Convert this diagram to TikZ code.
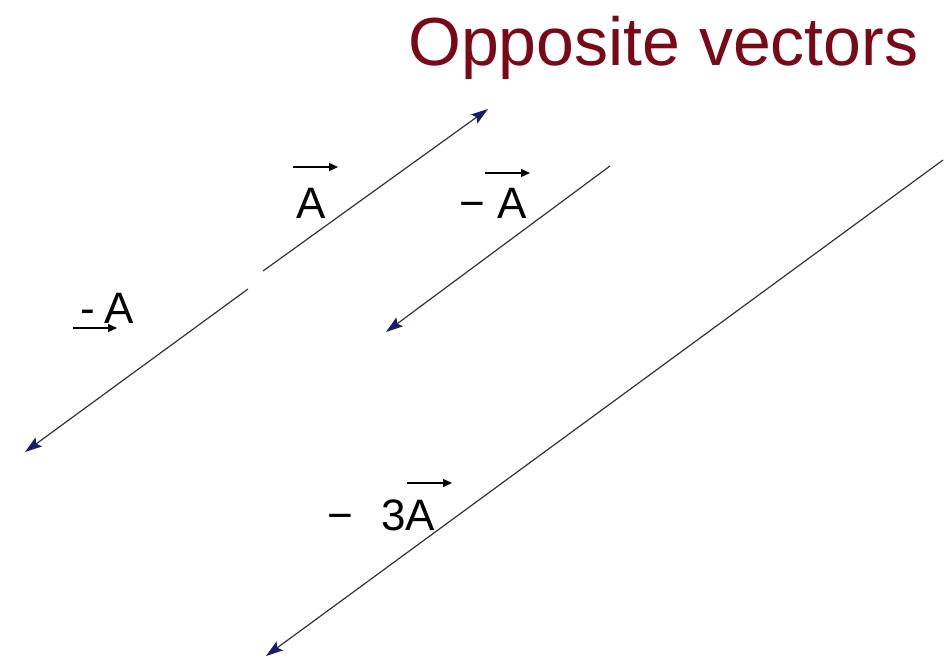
\documentclass[tikz,border=0pt]{standalone}
\usepackage{fontspec}
\setmainfont{Liberation Sans}
\usetikzlibrary{arrows.meta}
\definecolor{titlered}{RGB}{122,8,22}
\definecolor{tipblue}{RGB}{28,26,110}

\begin{document}
\begin{tikzpicture}[x=1pt, y=-1pt, every node/.style={inner sep=0pt, anchor=base west, font=\fontsize{44}{44}\selectfont}, vec/.style={draw=black!80, line width=1.2pt, -{Stealth[length=17pt, width=11pt, inset=3pt, color=tipblue]}}, bar/.style={line width=1.4pt, -{Triangle[length=9pt, width=8pt]}}]
\useasboundingbox (0,0) rectangle (946,659);
\node[font=\fontsize{68}{68}\selectfont, text=titlered] (title) at (408,65) {Opposite vectors};
% the vectors
\coordinate (a0) at (263,271);
\coordinate (a1) at (488,109);
\coordinate (b0) at (248,289);
\coordinate (b1) at (25,452);
\coordinate (c0) at (610,166);
\coordinate (c1) at (386,332);
\coordinate (d0) at (943,160);
\coordinate (d1) at (266,656);
\draw[vec] (a0) -- (a1);
\draw[vec] (b0) -- (b1);
\draw[vec] (c0) -- (c1);
\draw[vec] (d0) -- (d1);
% labels
\node (la) at (296,218) {A};
\node (lb) at (80,323) {-\hspace{10pt}A};
\node (lc) at (459.5,218) {− A};
\node (ld) at (327.5,530) {−\hspace{28pt}3A};
\draw[bar] ([xshift=-3pt, yshift=51pt]la.base west) -- ([xshift=42pt, yshift=51pt]la.base west);
\draw[bar] ([xshift=-7pt, yshift=-5pt]lb.base west) -- ([xshift=37pt, yshift=-5pt]lb.base west);
\draw[bar] ([xshift=25.5pt, yshift=45pt]lc.base west) -- ([xshift=70.5pt, yshift=45pt]lc.base west);
\draw[bar] ([xshift=79.5pt, yshift=47pt]ld.base west) -- ([xshift=124.5pt, yshift=47pt]ld.base west);
\end{tikzpicture}
\end{document}
